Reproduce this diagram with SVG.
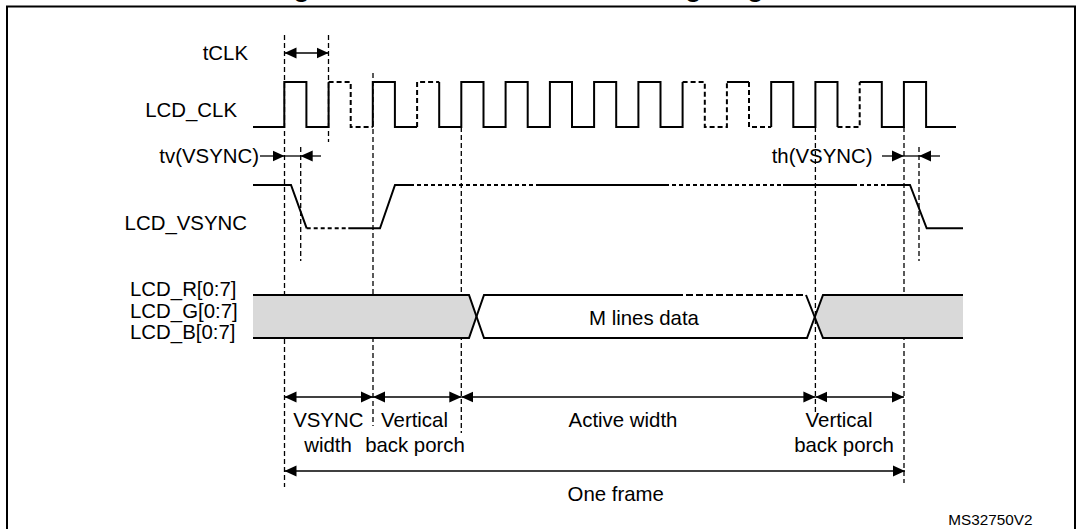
<svg xmlns="http://www.w3.org/2000/svg" width="1082" height="529" viewBox="0 0 1082 529">
<style>
text{font-family:"Liberation Sans",Arial,sans-serif;font-size:20.4px;fill:#000}
.title{font-weight:bold;font-size:26.5px}
.sig{fill:none;stroke:#000;stroke-width:2;stroke-linejoin:miter}
.sigd{fill:none;stroke:#000;stroke-width:2;stroke-dasharray:5 3}
.sigv{fill:none;stroke:#000;stroke-width:2;stroke-dasharray:4 3}
.guide{fill:none;stroke:#000;stroke-width:1.3;stroke-dasharray:5 3}
.dim{fill:none;stroke:#000;stroke-width:1.3}
.gray{fill:#d9d9d9;stroke:none}
</style>
<defs>
<marker id="ah" viewBox="0 0 12 12" refX="12" refY="6" markerWidth="12" markerHeight="12" markerUnits="userSpaceOnUse" orient="auto-start-reverse">
<path d="M0,0.5 L12,6 L0,11.5 z" fill="#000"/>
</marker>
</defs>
<rect width="1082" height="529" fill="#fff"/>
<text class="title" x="541" y="-3.5" text-anchor="middle">Figure 64. LCD-TFT vertical timing diagram</text>
<path d="M7,540 V6.5 H1075 V540" fill="none" stroke="#000" stroke-width="2"/>

<g id="guides">
<line class="guide" x1="284.5" y1="35" x2="284.5" y2="487"/>
<line class="guide" x1="328.5" y1="35" x2="328.5" y2="142"/>
<line class="guide" x1="300.7" y1="147" x2="300.7" y2="261"/>
<line class="guide" x1="373" y1="73" x2="373" y2="426"/>
<line class="guide" x1="461.3" y1="127" x2="461.3" y2="433"/>
<line class="guide" x1="815.4" y1="127" x2="815.4" y2="412"/>
<line class="guide" x1="904" y1="127" x2="904" y2="483"/>
<line class="guide" x1="919" y1="147" x2="919" y2="261"/>
</g>

<g id="tclk">
<text x="248" y="60" text-anchor="end">tCLK</text>
<line class="dim" x1="284.5" y1="53" x2="328.5" y2="53" marker-start="url(#ah)" marker-end="url(#ah)"/>
</g>

<g id="lcd_clk">
<text x="237" y="117" text-anchor="end">LCD_CLK</text>
<path class="sig" d="M253,127 H284.3 V82 H306.4 V127 H328.6 V82"/>
<path class="sigd" d="M328.6,82 H350.7 V127 H372.8"/>
<path class="sig" d="M372.8,127 V82 H394.9 V127 H417.1"/>
<path class="sigd" d="M417.1,127 V82 H439.2"/>
<path class="sig" d="M439.2,82 V127 H461.3 V82 H483.5 V127 H505.6 V82 H527.7 V127 H549.9 V82 H572 V127 H594.1 V82 H616.2 V127 H638.4 V82 H660.5 V127 H682.6 V82"/>
<path class="sigd" d="M682.6,82 H704.8 V127 H726.9 V82"/>
<path class="sig" d="M726.9,82 H749"/>
<path class="sigd" d="M749,82 V127 H771.2"/>
<path class="sig" d="M771.2,127 V82 H793.3 V127 H815.4 V82 H837.5 V127"/>
<path class="sigd" d="M837.5,127 H859.7 V82"/>
<path class="sig" d="M859.7,82 H881.8 V127 H903.9 V82 H926.1 V127 H956"/>
</g>

<g id="tv_vsync">
<text x="259" y="163" text-anchor="end">tv(VSYNC)</text>
<line class="dim" x1="260" y1="156" x2="284.5" y2="156" marker-end="url(#ah)"/>
<line class="dim" x1="284.5" y1="156" x2="300.7" y2="156"/>
<line class="dim" x1="321" y1="156" x2="300.7" y2="156" marker-end="url(#ah)"/>
</g>

<g id="th_vsync">
<text x="771.7" y="163">th(VSYNC)</text>
<line class="dim" x1="882" y1="156" x2="904" y2="156" marker-end="url(#ah)"/>
<line class="dim" x1="904" y1="156" x2="919" y2="156"/>
<line class="dim" x1="940" y1="156" x2="919" y2="156" marker-end="url(#ah)"/>
</g>

<g id="lcd_vsync">
<text x="247" y="229.5" text-anchor="end">LCD_VSYNC</text>
<path class="sig" d="M253,185 H291 L306.7,228.3"/>
<path class="sigv" d="M306.7,228.3 H348.3"/>
<path class="sig" d="M348.3,228.3 H380 L395,185 H410"/>
<path class="sigv" d="M410,185 H536"/>
<path class="sig" d="M536,185 H665"/>
<path class="sigv" d="M665,185 H783"/>
<path class="sig" d="M783,185 H853"/>
<path class="sigv" d="M853,185 H887"/>
<path class="sig" d="M887,185 H910 L926.7,228.3 H963"/>
</g>

<g id="lcd_data">
<text x="130" y="296">LCD_R[0:7]</text>
<text x="130" y="318">LCD_G[0:7]</text>
<text x="130" y="339">LCD_B[0:7]</text>
<polygon class="gray" points="253,295 469,295 476.5,316.5 469,338 253,338"/>
<polygon class="gray" points="815,316.5 823,295 963,295 963,338 823,338"/>
<path class="sig" d="M253,295 H469 L484,338 H807 L823,295 H963"/>
<path class="sig" d="M253,338 H469 L484,295 H676"/>
<path class="sigd" d="M676,295 H806" style="stroke-dasharray:7 3"/>
<path class="sig" d="M806,295 L823,338 H963"/>
<text x="644" y="325" text-anchor="middle">M lines data</text>
</g>

<g id="intervals">
<line class="dim" x1="284.5" y1="397" x2="373" y2="397" marker-start="url(#ah)" marker-end="url(#ah)"/>
<line class="dim" x1="373" y1="397" x2="461.3" y2="397" marker-start="url(#ah)" marker-end="url(#ah)"/>
<line class="dim" x1="461.3" y1="397" x2="815.4" y2="397" marker-start="url(#ah)" marker-end="url(#ah)"/>
<line class="dim" x1="815.4" y1="397" x2="904" y2="397" marker-start="url(#ah)" marker-end="url(#ah)"/>
<line class="dim" x1="284.5" y1="471" x2="905" y2="471" marker-start="url(#ah)" marker-end="url(#ah)"/>
<text x="328.3" y="426.7" text-anchor="middle">VSYNC</text>
<text x="328" y="451.7" text-anchor="middle">width</text>
<text x="414.5" y="426.7" text-anchor="middle">Vertical</text>
<text x="415" y="451.7" text-anchor="middle">back porch</text>
<text x="623" y="426.7" text-anchor="middle">Active width</text>
<text x="839" y="426.7" text-anchor="middle">Vertical</text>
<text x="844" y="451.7" text-anchor="middle">back porch</text>
<text x="615.7" y="500.7" text-anchor="middle">One frame</text>
</g>

<text x="948.3" y="525" style="font-size:15.3px">MS32750V2</text>
</svg>
